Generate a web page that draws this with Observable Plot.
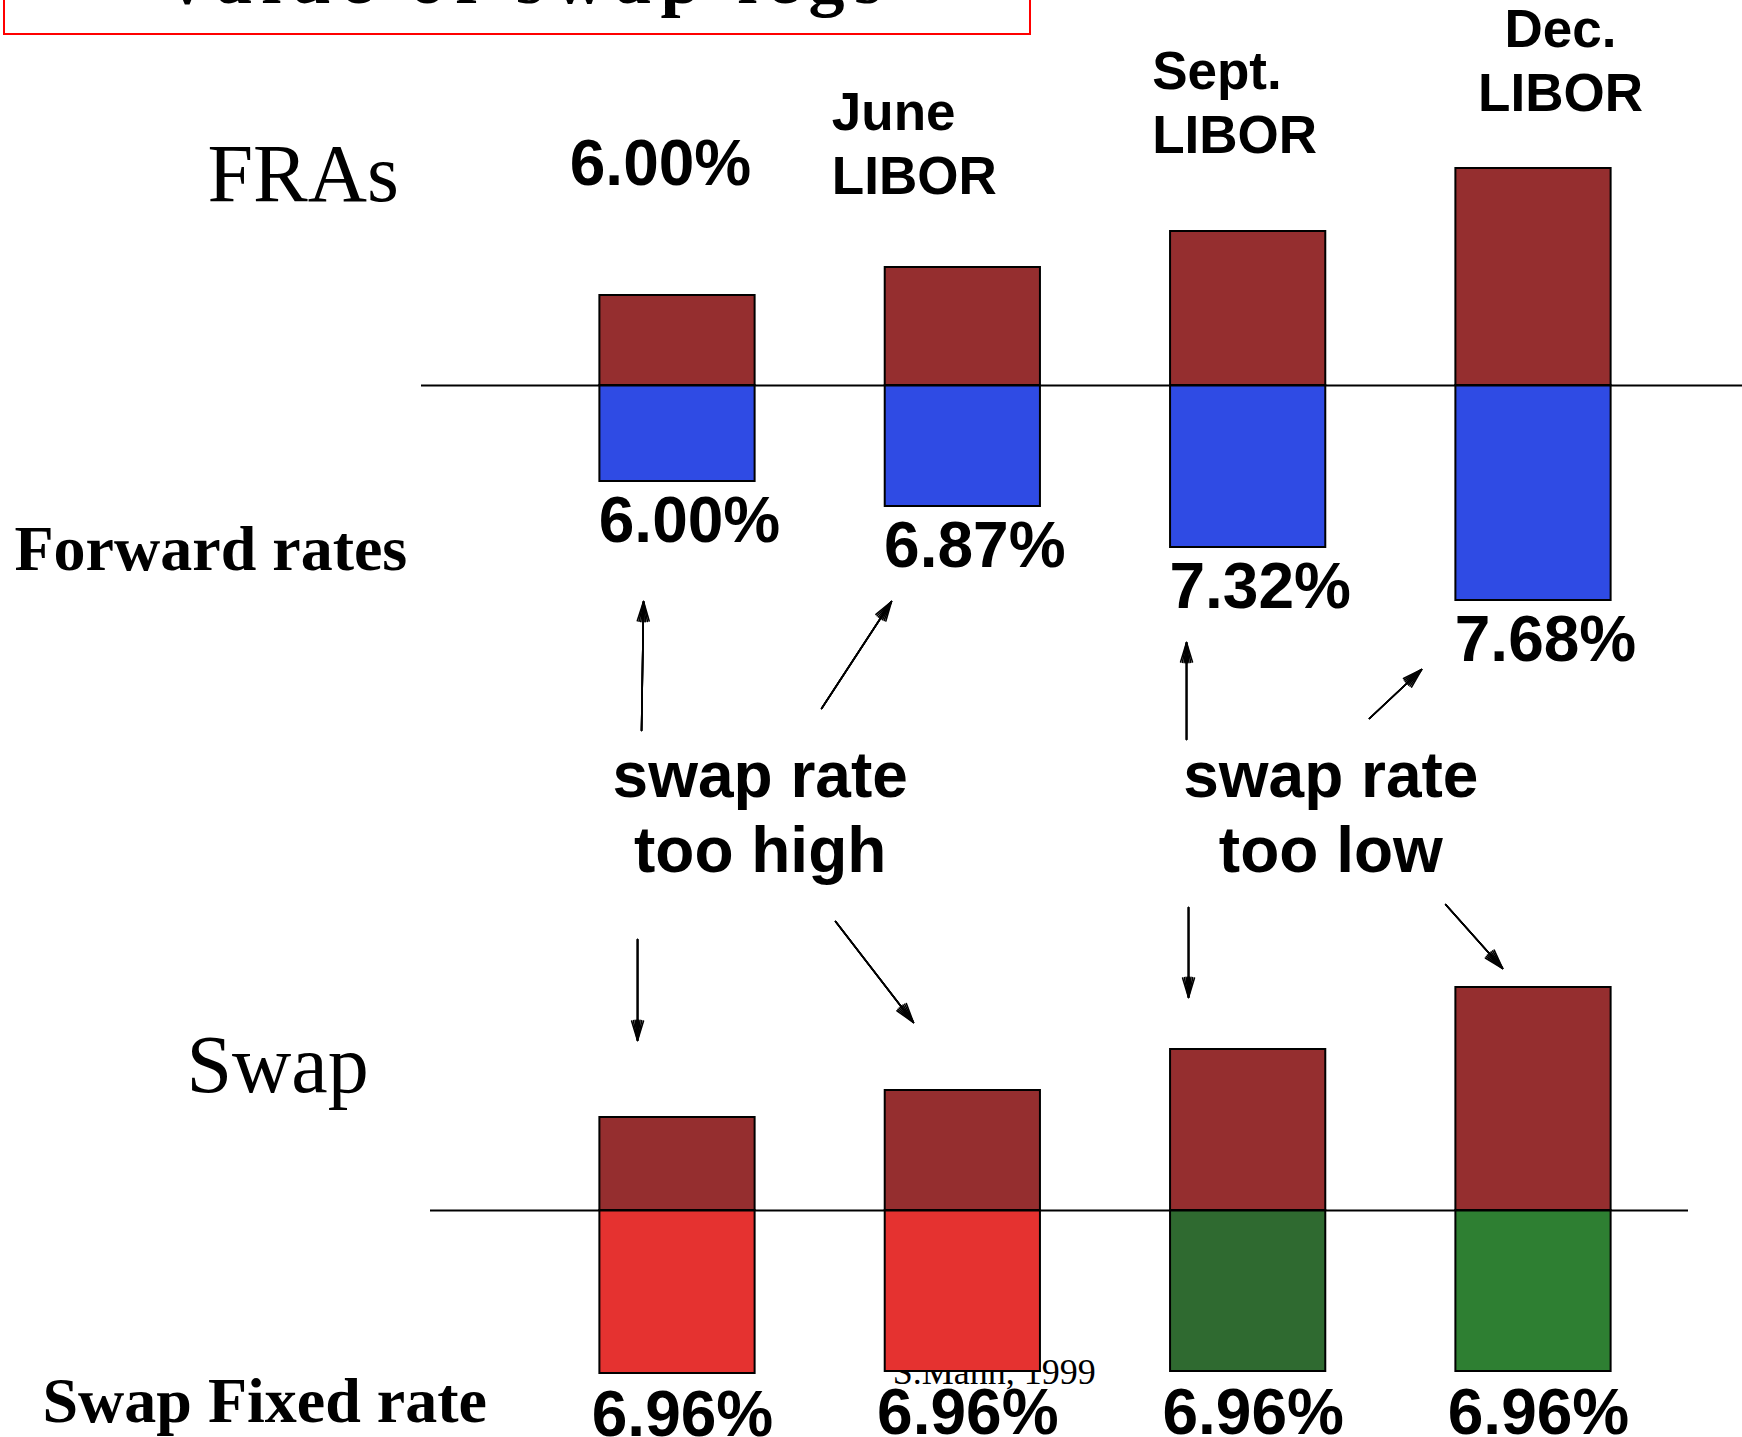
<!DOCTYPE html>
<html>
<head>
<meta charset="utf-8">
<script src="https://cdn.jsdelivr.net/npm/d3@7"></script>
<script src="https://cdn.jsdelivr.net/npm/@observablehq/plot@0.6"></script>
<style>
  html, body { margin: 0; padding: 0; background: #fff; }
  #page { position: relative; width: 1742px; height: 1437px; overflow: hidden; background: #fff; }
  #page svg { display: block; }
  #title-box {
    position: absolute; left: 3px; top: -60px; width: 1024px; height: 91px;
    border: 2px solid #f00; box-sizing: content-box; z-index: 2; background: transparent;
  }
  #title {
    position: absolute; left: 161px; top: -57px; z-index: 3; margin: 0;
    font: bold 72px/1 "Liberation Serif", "Times New Roman", serif;
    letter-spacing: 9.5px; white-space: nowrap; color: #000;
  }
</style>
</head>
<body>
<div id="page">
  <div id="title-box"></div>
  <h1 id="title">Value of swap legs</h1>
  <div id="fra"></div>
  <div id="swap"></div>
</div>
<script>
// Reset periods of the one-year swap, quarterly.
const periods = ["Now", "June", "Sept.", "Dec."];
// Forward LIBOR rates locked in by the FRAs (%).
const forwardRates = [6.00, 6.87, 7.32, 7.68];
// Fixed rate paid on the swap (%), the same every period.
const swapFixedRate = 6.96;

// Size of each leg's cash flow, in chart units.
const fraFloatingLeg = [0.90, 1.18, 1.54, 2.17];
const fraFixedLeg = [0.96, 1.21, 1.62, 2.15];
const swapFloatingLeg = [0.93, 1.20, 1.61, 2.23];
const swapFixedLeg = [1.63, 1.61, 1.61, 1.61];

const rows = periods.map((period, i) => ({
  period, i,
  rate: forwardRates[i],
  fraFloat: fraFloatingLeg[i],
  fraFixed: fraFixedLeg[i],
  swapFloat: swapFloatingLeg[i],
  swapFixed: swapFixedLeg[i],
  // the swap overpays where its fixed rate beats the forward rate
  verdict: swapFixedRate > forwardRates[i] ? "too high" : "too low"
}));

const pct = d => d3.format(".2f")(d) + "%";
const SANS = "'Liberation Sans', Arial, Helvetica, sans-serif";
const SERIF = "'Liberation Serif', 'Times New Roman', serif";
const BROWN = "#952e2f";
const BLUE = "#2f4be4";

// One column per period, evenly spaced.
const xScale = {domain: [0, 3], range: [677, 1533]};
const halfBar = 0.272;
const barShape = {x1: d => d.i - halfBar, x2: d => d.i + halfBar, stroke: "#000", strokeWidth: 2};
const big = {fontSize: 64, fontWeight: "bold", fontFamily: SANS, fill: "#000", lineAnchor: "bottom"};

// Arrow with a solid-looking head: the head is stroked at narrowing angles.
const arrows = data => [34, 24, 14, 5].map(angle => Plot.arrow(data, {
  x1: "x1", y1: "y1", x2: "x2", y2: "y2",
  stroke: "#000", strokeWidth: 1.6, headLength: 19, headAngle: angle
}));

// Placement of the period headings above the floating legs.
const headingPlacement = {
  1: {dx: -131, dy: -74, textAnchor: "start"},
  2: {dx: -96, dy: -79, textAnchor: "start"},
  3: {dx: 27, dy: -58, textAnchor: "middle"}
};

// Callout arrows from the "swap rate" notes to each period, in column / leg units.
const upperArrows = [
  {x1: -0.126, y1: -3.45, x2: -0.119, y2: -2.16},
  {x1: 0.505, y1: -3.23, x2: 0.750, y2: -2.16},
  {x1: 1.784, y1: -3.54, x2: 1.784, y2: -2.57},
  {x1: 2.425, y1: -3.33, x2: 2.608, y2: -2.84}
];
const lowerArrows = [
  {x1: -0.140, y1: 2.71, x2: -0.140, y2: 1.70},
  {x1: 0.554, y1: 2.89, x2: 0.827, y2: 1.88},
  {x1: 1.791, y1: 3.03, x2: 1.791, y2: 2.13},
  {x1: 2.692, y1: 3.06, x2: 2.892, y2: 2.42}
];

// FRA panel: LIBOR leg above the line, forward-rate leg below.
const fraPlot = Plot.plot({
  width: 1742, height: 740,
  marginLeft: 421, marginRight: 0, marginTop: 0, marginBottom: 0,
  x: {...xScale, axis: null},
  y: {domain: [-3.55, 3.85], axis: null},
  style: {background: "transparent", overflow: "visible"},
  marks: [
    Plot.rect(rows, {...barShape, y1: 0, y2: "fraFloat", fill: BROWN}),
    Plot.rect(rows, {...barShape, y1: 0, y2: d => -d.fraFixed, fill: BLUE}),
    Plot.ruleY([0], {stroke: "#000", strokeWidth: 2}),
    Plot.text(rows.slice(0, 1), {...big, x: "i", y: "fraFloat", text: d => pct(d.rate), dx: -17, dy: -111}),
    ...rows.slice(1).map(r => Plot.text([r], {
      ...big, fontSize: 53, lineHeight: 1.19,
      x: "i", y: "fraFloat", text: d => `${d.period}\nLIBOR`,
      ...headingPlacement[r.i]
    })),
    Plot.text(rows, {...big, x: "i", y: d => -d.fraFixed, text: d => pct(d.rate), dx: 12, dy: 60}),
    Plot.text(["FRAs"], {frameAnchor: "left", y: 0, textAnchor: "start", lineAnchor: "bottom",
      dx: -214, dy: -185, fontSize: 82, fontFamily: SERIF, fill: "#000"}),
    Plot.text(["Forward rates"], {frameAnchor: "left", y: 0, textAnchor: "start", lineAnchor: "bottom",
      dx: -407, dy: 184, fontSize: 64, fontWeight: "bold", fontFamily: SERIF, fill: "#000"}),
    ...arrows(upperArrows)
  ]
});

// Swap panel: the same LIBOR leg against the single fixed rate.
const callouts = d3.groups(rows, d => d.verdict).map(([verdict, g]) => ({
  text: `swap rate\n${verdict}`,
  x: d3.mean(g, d => d.i)
}));

const swapPlot = Plot.plot({
  width: 1742, height: 697,
  marginLeft: 430, marginRight: 54, marginTop: 0, marginBottom: 0,
  x: {...xScale, axis: null},
  y: {domain: [-2.27, 4.70], axis: null},
  color: {domain: periods, range: ["#e53230", "#e53230", "#2f6a30", "#2e7f32"]},
  style: {background: "transparent", overflow: "visible"},
  marks: [
    Plot.text(["S.Mann, 1999"], {x: 1, y: 0, textAnchor: "start", lineAnchor: "bottom",
      dx: -70, dy: 173, fontSize: 36, fontFamily: SERIF, fill: "#000"}),
    Plot.rect(rows, {...barShape, y1: 0, y2: "swapFloat", fill: BROWN}),
    Plot.rect(rows, {...barShape, y1: 0, y2: d => -d.swapFixed, fill: "period"}),
    Plot.ruleY([0], {stroke: "#000", strokeWidth: 2}),
    Plot.text(rows, {...big, x: "i", y: d => -d.swapFixed, text: () => pct(swapFixedRate), dx: 5, dy: 62}),
    Plot.text(callouts, {...big, x: "x", y: 0, text: "text", dx: -60, dy: -339, lineHeight: 1.17}),
    ...arrows(lowerArrows),
    Plot.text(["Swap"], {frameAnchor: "left", y: 0, textAnchor: "start", lineAnchor: "bottom",
      dx: -244, dy: -119, fontSize: 82, fontFamily: SERIF, fill: "#000"}),
    Plot.text(["Swap Fixed rate"], {frameAnchor: "left", y: 0, textAnchor: "start", lineAnchor: "bottom",
      dx: -388, dy: 211, fontSize: 64, fontWeight: "bold", fontFamily: SERIF, fill: "#000"})
  ]
});

document.getElementById("fra").appendChild(fraPlot);
document.getElementById("swap").appendChild(swapPlot);
</script>
</body>
</html>
